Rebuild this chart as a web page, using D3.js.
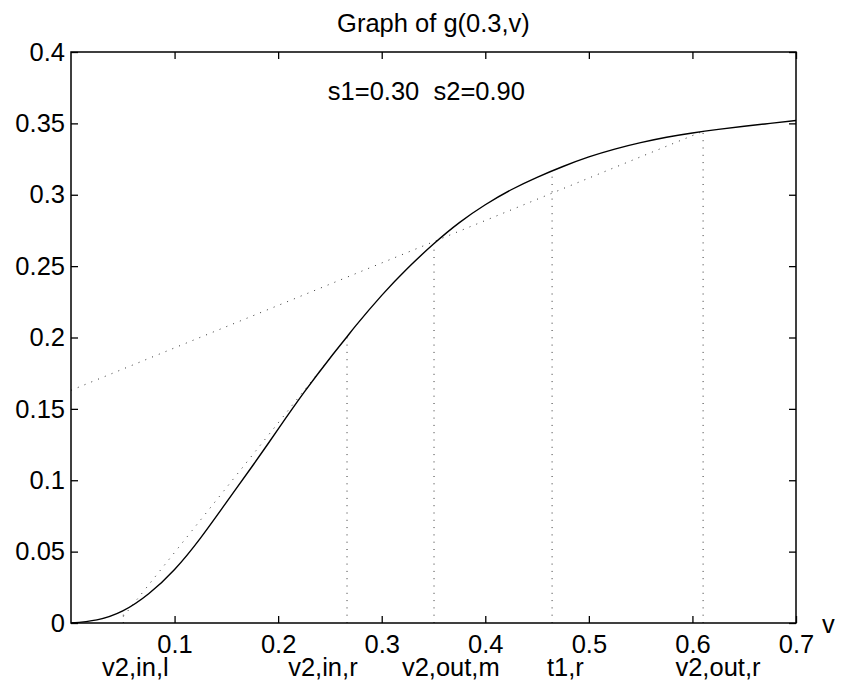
<!DOCTYPE html>
<html lang="en">
<head><meta charset="utf-8">
<title>Graph of g(0.3,v)</title>
<style>
body {
  margin: 0;
  background: #fff;
}
text {
  font-family: "Liberation Sans", Arial, Helvetica, sans-serif;
  font-size: 25.5px;
  fill: #000;
}
.axis path { display: none; }
.axis line { stroke: #000; stroke-width: 1.3px; }
.dots {
  fill: none;
  stroke: #333;
  stroke-width: 1px;
  stroke-dasharray: 1 6.3;
}
</style>
</head>
<body>
<svg width="841" height="693"></svg>
<script src="https://cdn.jsdelivr.net/npm/d3@7"></script>
<script>

// g(0.3, v)
var vValues = [0, 0.025, 0.05, 0.075, 0.1, 0.125, 0.15, 0.175, 0.2, 0.225, 0.25, 0.2665, 0.275,
               0.3, 0.325, 0.35, 0.375, 0.4, 0.425, 0.45, 0.475, 0.5, 0.525, 0.55,
               0.575, 0.6, 0.625, 0.65, 0.675, 0.7];
var gValues = [0, 0.0022, 0.0085, 0.0205, 0.0375, 0.0595, 0.0845, 0.1098, 0.1358, 0.1615, 0.1855, 0.2005, 0.2083,
               0.2295, 0.2485, 0.2655, 0.2805, 0.293, 0.3035, 0.3122, 0.3198, 0.3265, 0.332, 0.3365,
               0.3403, 0.3433, 0.3458, 0.348, 0.350, 0.352];

// dotted construction lines (two segments)
var innerLine = [[0.0505, 0.0045], [0.2665, 0.2005]];
var outerLine = [[0, 0.163], [0.6103, 0.3445]];

// marked v positions, their labels and where each label starts
var markV = [0.0505, 0.2665, 0.3505, 0.4645, 0.6103];
var markLabels = ["v2,in,l", "v2,in,r", "v2,out,m", "t1,r", "v2,out,r"];
var labelV = [0.030, 0.2097, 0.3195, 0.4595, 0.5836];

var xTicks = [0.1, 0.2, 0.3, 0.4, 0.5, 0.6, 0.7];
var yTicks = [0, 0.05, 0.1, 0.15, 0.2, 0.25, 0.3, 0.35, 0.4];

var title = "Graph of g(0.3,v)";
var note = "s1=0.30\u00a0\u00a0s2=0.90";

// plot box (window.top is taken, hence the prefixes)
var boxL = 71, boxR = 796, boxT = 52, boxB = 623;

var x = d3.scaleLinear().domain([0, 0.7]).range([boxL, boxR]);
var y = d3.scaleLinear().domain([0, 0.4]).range([boxB, boxT]);

var svg = d3.select("svg");

var curve = vValues.map(function(v, i) { return [v, gValues[i]]; });
function gAt(v) {
  var i = d3.bisectLeft(vValues, v);
  if (i <= 0) return gValues[0];
  var t = (v - vValues[i - 1]) / (vValues[i] - vValues[i - 1]);
  return gValues[i - 1] + t * (gValues[i] - gValues[i - 1]);
}

var line = d3.line()
    .x(function(d) { return x(d[0]); })
    .y(function(d) { return y(d[1]); });

// dotted stuff
svg.append("path").attr("class", "dots").attr("d", line(innerLine));
svg.append("path").attr("class", "dots").attr("d", line(outerLine));

svg.selectAll(".vline")
    .data(markV)
  .enter().append("line")
    .attr("class", "dots vline")
    .attr("x1", function(d) { return x(d); })
    .attr("x2", function(d) { return x(d); })
    .attr("y1", y(0))
    .attr("y2", function(d) { return y(gAt(d)); });

// the curve
svg.append("path")
    .attr("d", line.curve(d3.curveNatural)(curve))
    .attr("fill", "none")
    .attr("stroke", "#000")
    .attr("stroke-width", 1.4);

// axes, ticks pointing inward on all four sides
svg.append("g")
    .attr("class", "axis")
    .attr("transform", "translate(0," + boxB + ")")
    .call(d3.axisBottom(x).tickValues(xTicks).tickSize(-7).tickPadding(12)
      .tickFormat(d3.format(".1f")));

svg.append("g")
    .attr("class", "axis")
    .attr("transform", "translate(0," + boxT + ")")
    .call(d3.axisTop(x).tickValues(xTicks).tickSize(-7).tickFormat(""));

svg.append("g")
    .attr("class", "axis")
    .attr("transform", "translate(" + boxL + ",0)")
    .call(d3.axisLeft(y).tickValues(yTicks).tickSize(-7).tickPadding(6)
      .tickFormat(function(d) { return d === 0 ? "0" : String(+d.toFixed(2)); }));

svg.append("g")
    .attr("class", "axis")
    .attr("transform", "translate(" + boxR + ",0)")
    .call(d3.axisRight(y).tickValues(yTicks).tickSize(-7).tickFormat(""));

svg.selectAll(".axis text")
    .attr("fill", "#000")
    .style("font-family", "\"Liberation Sans\", Arial, sans-serif")
    .style("font-size", "25.5px");

svg.append("rect")
    .attr("x", boxL)
    .attr("y", boxT)
    .attr("width", boxR - boxL)
    .attr("height", boxB - boxT)
    .attr("fill", "none")
    .attr("stroke", "#000")
    .attr("stroke-width", 1.5);

// texts
svg.append("text")
    .attr("x", (boxL + boxR) / 2)
    .attr("y", 32)
    .attr("text-anchor", "middle")
    .text(title);

svg.append("text")
    .attr("x", x(0.248))
    .attr("y", 100)
    .text(note);

svg.append("text")
    .attr("x", 822)
    .attr("y", 633)
    .text("v");

svg.selectAll(".mlabel")
    .data(markLabels)
  .enter().append("text")
    .attr("class", "mlabel")
    .attr("x", function(d, i) { return x(labelV[i]); })
    .attr("y", 676)
    .text(function(d) { return d; });

</script>
</body>
</html>
